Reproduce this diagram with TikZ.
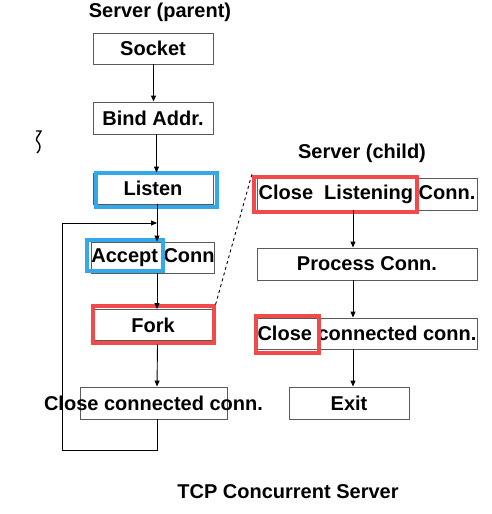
\documentclass[tikz,border=0pt]{standalone}
\usepackage{fontspec}
\setmainfont{Liberation Sans}
\usetikzlibrary{arrows.meta}
\definecolor{boxgray}{HTML}{5A5A5A}
\definecolor{hlblue}{HTML}{33A9E9}
\definecolor{hlred}{HTML}{F24A4A}
\tikzset{
  stepbox/.style={draw=boxgray, line width=0.9pt, rectangle, inner sep=0pt, minimum width=#1, minimum height=31pt},
  stepbox/.default=120pt,
  hl/.style={draw=#1, line width=3.2pt, rectangle, inner sep=0pt},
  flow/.style={draw=black, line width=0.9pt, -{Triangle[length=6pt,width=5pt]}},
  lbl/.style={font=\bfseries\fontsize{20}{23}\selectfont, inner sep=0pt}
}
\begin{document}
\begin{tikzpicture}[x=1pt,y=-1pt]
\useasboundingbox (0,0) rectangle (491,514);
\fill[white] (0,0) rectangle (491,514);

% headers
\node[lbl] (hparent) at (160,12) {Server (parent)};
\node[lbl] (hchild) at (362,153) {Server (child)};
\node[lbl] (footer) at (288,492) {TCP Concurrent Server};

% left column
\node[stepbox, lbl] (socket) at (153,48.5) {Socket};
\node[stepbox, lbl, minimum height=32pt] (bind) at (153,118) {Bind Addr.};
\node[stepbox, lbl] (listen) at (153,188.5) {Listen};
\node[stepbox, lbl] (accept) at (153,257.5) {Accept Conn};
\node[stepbox, lbl] (fork) at (153,325) {Fork};
\node[stepbox=147pt, lbl, minimum height=32pt] (closeL) at (153.5,403) {\makebox[0pt]{Close connected conn.}};

% highlights left
\node[hl=hlblue, minimum width=121pt, minimum height=34pt] (listenhl) at (156.5,190) {};
\node[hl=hlblue, minimum width=76pt, minimum height=31pt] (accepthl) at (125,255.5) {};
\node[hl=hlred, minimum width=121pt, minimum height=37pt] (forkhl) at (153.5,324.5) {};

% right column
\node[stepbox=220pt, lbl, minimum height=32pt] (closeLis) at (367,194) {Close\ \ Listening Conn.};
\node[stepbox=220pt, lbl, minimum height=32pt] (process) at (367,264) {Process Conn.};
\node[stepbox=220pt, lbl] (closeC) at (367,333.5) {Close connected conn.};
\node[stepbox, lbl, minimum height=32pt] (exit) at (349,403) {Exit};

% highlights right
\node[hl=hlred, minimum width=163pt, minimum height=35pt] (closeLishl) at (335.5,194.5) {};
\node[hl=hlred, minimum width=63pt, minimum height=37pt] (closeChl) at (287.5,334.5) {};

% arrows left
\draw[flow] ([xshift=0.5pt]socket.south) -- ([xshift=0.5pt]bind.north);
\draw[flow] ([xshift=3.5pt]bind.south) -- ([xshift=3.5pt]listen.north);
\draw[flow] ([xshift=4pt]listen.south) -- ([xshift=4pt]accept.north);
\draw[flow] ([xshift=4pt]accept.south) -- ([xshift=4pt]fork.north);
\draw[flow] ([xshift=4pt]forkhl.south) -- ([xshift=3.5pt]closeL.north);

% loop back
\coordinate (loopin) at (157,223);
\draw[flow] ([xshift=3.5pt]closeL.south) -- (157,450) -- (62,450) -- (62,223) -- (loopin);

% arrows right
\draw[flow] ([xshift=-14pt]closeLis.south) -- ([xshift=-14pt]process.north);
\draw[flow] ([xshift=-14pt]process.south) -- ([xshift=-14pt]closeC.north);
\draw[flow] ([xshift=-14pt]closeC.south) -- ([xshift=4pt]exit.north);

% dashed fork link
\draw[dashed, line width=0.9pt] (forkhl.north east) -- ([yshift=3pt]closeLishl.north west);

% stray squiggle mark
\draw[line width=1.4pt] (36,131) -- (41,131) .. controls (39,136) and (35,138) .. (37,141) .. controls (40,144) and (42,148) .. (37,153);
\end{tikzpicture}
\end{document}
